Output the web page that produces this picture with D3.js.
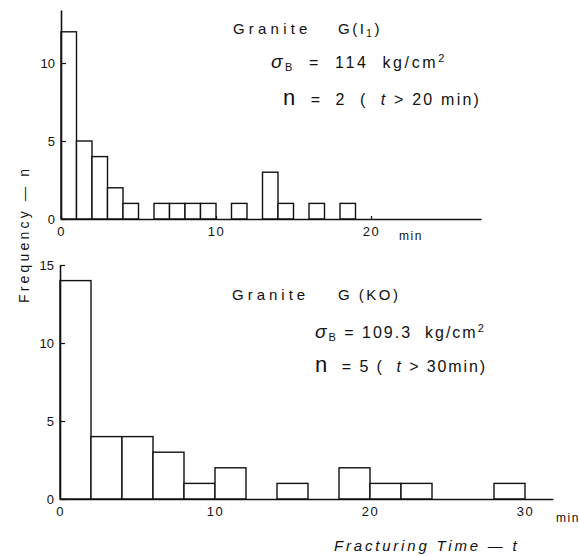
<!DOCTYPE html>
<html>
<head>
<meta charset="utf-8">
<script src="https://cdn.jsdelivr.net/npm/d3@7"></script>
<style>
  html, body { margin: 0; padding: 0; background: #fff; }
  svg { display: block; }
  text { font-family: "Liberation Sans", "DejaVu Sans", sans-serif; fill: #111; white-space: pre; }
</style>
</head>
<body>
<svg id="chart" width="579" height="556"></svg>
<script>
// ---- data ----
// Top panel: Granite G(I1), 1-minute bins starting at 0
const topBinWidth = 1;
const topCounts = [12, 5, 4, 2, 1, 0, 1, 1, 1, 1, 0, 1, 0, 3, 1, 0, 1, 0, 1];
const topYTicks = [0, 5, 10];
const topXTicks = [0, 10, 20];

// Bottom panel: Granite G (KO), 2-minute bins starting at 0
const bottomBinWidth = 2;
const bottomCounts = [14, 4, 4, 3, 1, 2, 0, 1, 0, 2, 1, 1, 0, 0, 1];
const bottomYTicks = [0, 5, 10, 15];
const bottomXTicks = [0, 10, 20, 30];

const svg = d3.select("#chart");

function panel(cfg) {
  const x = d3.scaleLinear().domain(cfg.xDomain).range(cfg.xRange);
  const y = d3.scaleLinear().domain(cfg.yDomain).range(cfg.yRange);
  const g = svg.append("g");

  const bins = cfg.counts.map((c, i) => ({ x0: i * cfg.binWidth, x1: (i + 1) * cfg.binWidth, c }))
                         .filter(d => d.c > 0);
  g.selectAll("rect.bar").data(bins).join("rect")
    .attr("class", "bar")
    .attr("x", d => x(d.x0))
    .attr("width", d => x(d.x1) - x(d.x0))
    .attr("y", d => y(d.c))
    .attr("height", d => y(0) - y(d.c))
    .attr("fill", "#fff")
    .attr("stroke", "#111")
    .attr("stroke-width", 1.4);

  // x axis
  const xa = g.append("g").attr("transform", `translate(0,${y(0)})`)
    .call(d3.axisBottom(x).tickValues(cfg.xTicks).tickSizeInner(cfg.xTickSize).tickSizeOuter(0).tickPadding(cfg.xPad));
  xa.select(".domain").attr("stroke", "#111").attr("stroke-width", 1.6);
  xa.selectAll(".tick line").attr("stroke", "#111").attr("stroke-width", 1.2);
  xa.selectAll(".tick text").attr("font-size", 13).attr("letter-spacing", 1.5)
    .attr("font-family", "Liberation Sans, sans-serif").attr("fill", "#111");

  // y axis
  const ya = g.append("g").attr("transform", `translate(${x(0)},0)`)
    .call(d3.axisLeft(y).tickValues(cfg.yTicks).tickSizeInner(-5).tickSizeOuter(0).tickPadding(6));
  ya.select(".domain").attr("stroke", "#111").attr("stroke-width", 1.6);
  ya.selectAll(".tick line").attr("stroke", "#111").attr("stroke-width", 1.2);
  ya.selectAll(".tick text").attr("font-size", 13)
    .attr("font-family", "Liberation Sans, sans-serif").attr("fill", "#111");
  return { x, y, g };
}

const topPanel = panel({
  counts: topCounts, binWidth: topBinWidth,
  xDomain: [0, 27.1], xRange: [61, 61 + 27.1 * 15.5],
  yDomain: [0, 13.4], yRange: [219, 219 - 13.4 * 15.6],
  xTicks: topXTicks, yTicks: topYTicks, xTickSize: -3, xPad: 8
});
const bottomPanel = panel({
  counts: bottomCounts, binWidth: bottomBinWidth,
  xDomain: [0, 31.8], xRange: [60, 60 + 31.8 * 15.5],
  yDomain: [0, 15], yRange: [499, 499 - 15 * 15.6],
  xTicks: bottomXTicks, yTicks: bottomYTicks, xTickSize: 0, xPad: 8
});

function label(x, y, parts, size, spacing) {
  const t = svg.append("text").attr("x", x).attr("y", y)
    .attr("font-size", size).attr("letter-spacing", spacing);
  parts.forEach(p => {
    const s = t.append("tspan").text(p.t);
    if (p.dy) s.attr("dy", p.dy);
    if (p.size) s.attr("font-size", p.size);
    if (p.style) s.attr("font-style", p.style);
  });
  return t;
}

// units
label(399, 240, [{ t: "min" }], 12, 1.5);
label(556, 522, [{ t: "min" }], 12, 1.5);

// top annotation
label(233, 34, [{ t: "Granite" }], 15, 4.2);
label(338, 34, [{ t: "G(I" }, { t: "1", dy: 3, size: 10 }, { t: ")", dy: -3 }], 15, 2.5);
label(271, 68, [{ t: "σ", size: 19, style: "italic" }, { t: "B", dy: 3, size: 11 },
  { t: "  =  114  kg/cm", dy: -3 }, { t: "2", dy: -6, size: 11 }], 16, 2.6);
label(283, 105, [{ t: "n", size: 22 }, { t: "  =  2  (  ", size: 16 }, { t: "t", size: 16, style: "italic" },
  { t: " > 20 min)", size: 16 }], 16, 2.2);

// bottom annotation
label(232, 300, [{ t: "Granite" }], 15, 4.0);
label(338, 300, [{ t: "G (KO)" }], 15, 2.5);
label(315, 338, [{ t: "σ", size: 19, style: "italic" }, { t: "B", dy: 3, size: 11 },
  { t: " = 109.3  kg/cm", dy: -3 }, { t: "2", dy: -6, size: 11 }], 16, 2.0);
label(315, 372, [{ t: "n", size: 22 }, { t: "  = 5 (  ", size: 16 }, { t: "t", size: 16, style: "italic" },
  { t: " > 30min)", size: 16 }], 16, 1.9);

// axis titles
svg.append("text").attr("transform", "translate(29,303) rotate(-90)")
  .attr("font-size", 14).attr("letter-spacing", 3.2).text("Frequency — n");
svg.append("text").attr("x", 334).attr("y", 551)
  .attr("font-size", 15).attr("letter-spacing", 2.8).attr("font-style", "italic").text("Fracturing Time — t");
</script>
</body>
</html>
